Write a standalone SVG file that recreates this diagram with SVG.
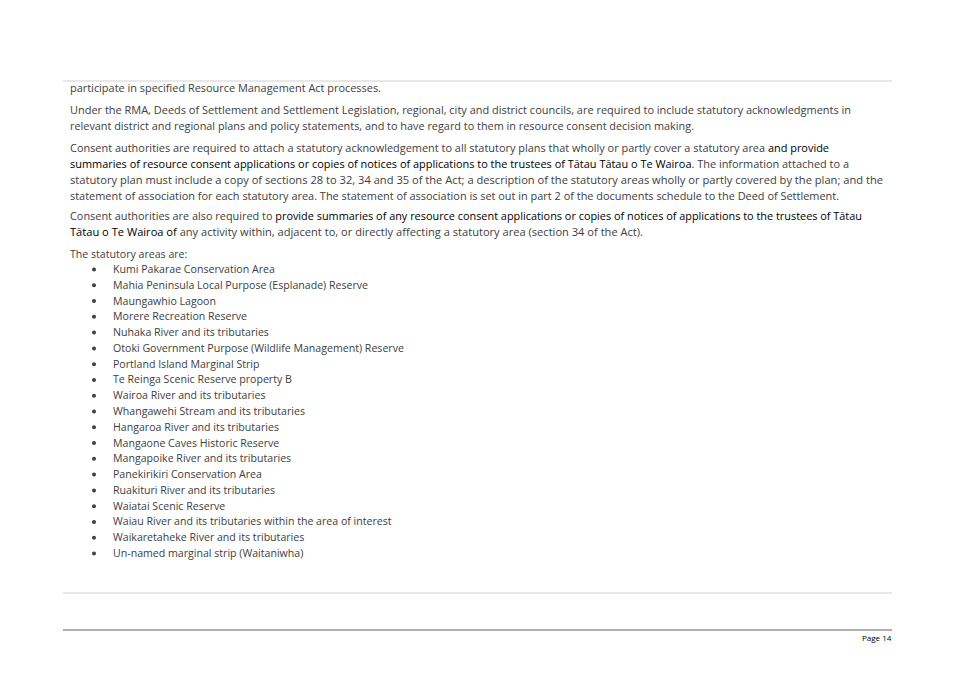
<svg xmlns="http://www.w3.org/2000/svg" width="955" height="675" viewBox="0 0 955 675">
<style>
text{font-family:"Open Sans","Liberation Sans",sans-serif;font-size:10.6px;fill:#404040}
.b{fill:#000}
.li text{font-size:10.6px}
</style>
<rect width="955" height="675" fill="#fff"/>
<line x1="63" y1="81" x2="892" y2="81" stroke="#d0d0d0"/>
<line x1="63" y1="593" x2="892" y2="593" stroke="#d0d0d0"/>
<line x1="63" y1="630" x2="892" y2="630" stroke="#606060"/>
<text x="70" y="92" textLength="311" lengthAdjust="spacingAndGlyphs">participate in specified Resource Management Act processes.</text>
<text x="70" y="114" textLength="781" lengthAdjust="spacingAndGlyphs">Under the RMA, Deeds of Settlement and Settlement Legislation, regional, city and district councils, are required to include statutory acknowledgments in</text>
<text x="70" y="130" textLength="624" lengthAdjust="spacingAndGlyphs">relevant district and regional plans and policy statements, and to have regard to them in resource consent decision making.</text>
<text x="70" y="152" textLength="759" lengthAdjust="spacingAndGlyphs">Consent authorities are required to attach a statutory acknowledgement to all statutory plans that wholly or partly cover a statutory area <tspan class="b">and provide</tspan></text>
<text x="70" y="168" textLength="779" lengthAdjust="spacingAndGlyphs"><tspan class="b">summaries of resource consent applications or copies of notices of applications to the trustees of Tātau Tātau o Te Wairoa</tspan>. The information attached to a</text>
<text x="70" y="184" textLength="813" lengthAdjust="spacingAndGlyphs">statutory plan must include a copy of sections 28 to 32, 34 and 35 of the Act; a description of the statutory areas wholly or partly covered by the plan; and the</text>
<text x="70" y="200" textLength="769" lengthAdjust="spacingAndGlyphs">statement of association for each statutory area. The statement of association is set out in part 2 of the documents schedule to the Deed of Settlement.</text>
<text x="70" y="220" textLength="792" lengthAdjust="spacingAndGlyphs">Consent authorities are also required to <tspan class="b">provide summaries of any resource consent applications or copies of notices of applications to the trustees of Tātau</tspan></text>
<text x="70" y="236" textLength="573" lengthAdjust="spacingAndGlyphs"><tspan class="b">Tātau o Te Wairoa of</tspan> any activity within, adjacent to, or directly affecting a statutory area (section 34 of the Act).</text>
<text x="70" y="258">The statutory areas are:</text>
<g class="li" id="list">
<g fill="#404040">
<circle cx="94" cy="269.5" r="2"/><circle cx="94" cy="285.3" r="2"/><circle cx="94" cy="301.1" r="2"/><circle cx="94" cy="316.8" r="2"/><circle cx="94" cy="332.6" r="2"/><circle cx="94" cy="348.4" r="2"/><circle cx="94" cy="364.2" r="2"/><circle cx="94" cy="379.9" r="2"/><circle cx="94" cy="395.7" r="2"/><circle cx="94" cy="411.5" r="2"/><circle cx="94" cy="427.3" r="2"/><circle cx="94" cy="443.1" r="2"/><circle cx="94" cy="458.8" r="2"/><circle cx="94" cy="474.6" r="2"/><circle cx="94" cy="490.4" r="2"/><circle cx="94" cy="506.2" r="2"/><circle cx="94" cy="521.9" r="2"/><circle cx="94" cy="537.7" r="2"/><circle cx="94" cy="553.5" r="2"/>
</g>
<text x="113" y="273">Kumi Pakarae Conservation Area</text>
<text x="113" y="288.8">Mahia Peninsula Local Purpose (Esplanade) Reserve</text>
<text x="113" y="304.6">Maungawhio Lagoon</text>
<text x="113" y="320.3">Morere Recreation Reserve</text>
<text x="113" y="336.1">Nuhaka River and its tributaries</text>
<text x="113" y="351.9">Otoki Government Purpose (Wildlife Management) Reserve</text>
<text x="113" y="367.7">Portland Island Marginal Strip</text>
<text x="113" y="383.4">Te Reinga Scenic Reserve property B</text>
<text x="113" y="399.2">Wairoa River and its tributaries</text>
<text x="113" y="415">Whangawehi Stream and its tributaries</text>
<text x="113" y="430.8">Hangaroa River and its tributaries</text>
<text x="113" y="446.6">Mangaone Caves Historic Reserve</text>
<text x="113" y="462.3">Mangapoike River and its tributaries</text>
<text x="113" y="478.1">Panekirikiri Conservation Area</text>
<text x="113" y="493.9">Ruakituri River and its tributaries</text>
<text x="113" y="509.7">Waiatai Scenic Reserve</text>
<text x="113" y="525.4">Waiau River and its tributaries within the area of interest</text>
<text x="113" y="541.2">Waikaretaheke River and its tributaries</text>
<text x="113" y="557">Un-named marginal strip (Waitaniwha)</text>
</g>
<text x="862" y="641" style="font-size:8px;fill:#000">Page 14</text>
</svg>
